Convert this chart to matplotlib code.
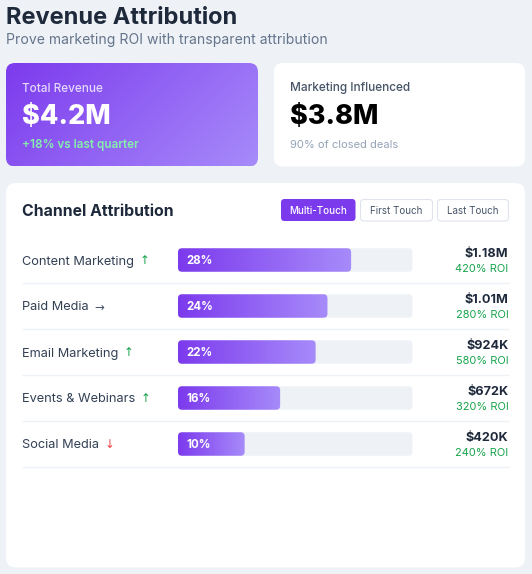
import numpy as np
import matplotlib
matplotlib.use("Agg")
import matplotlib.pyplot as plt
from matplotlib.patches import FancyBboxPatch
from matplotlib import transforms as mtrans
from matplotlib.colors import to_rgb

# ---------------- data ----------------
title = "Revenue Attribution"
subtitle = "Prove marketing ROI with transparent attribution"
kpi_labels = ["Total Revenue", "Marketing Influenced"]
kpi_values = ["$4.2M", "$3.8M"]
kpi_notes = ["+18% vs last quarter", "90% of closed deals"]
section_title = "Channel Attribution"
modes = ["Multi-Touch", "First Touch", "Last Touch"]
channels = ["Content Marketing", "Paid Media", "Email Marketing", "Events & Webinars", "Social Media"]
trends = ["up", "flat", "up", "up", "down"]
shares = [28, 24, 22, 16, 10]
revenue = ["$1.18M", "$1.01M", "$924K", "$672K", "$420K"]
roi = [420, 280, 580, 320, 240]

# ---------------- style ----------------
plt.rcParams['font.family'] = ['Inter', 'DejaVu Sans']
W, H = 532, 574
DPI = 100
BG = "#eef2f7"
PURPLE = "#7c3aed"
LIGHT_PURPLE = "#a78bfa"
TRACK = "#eef2f6"
DARK = "#1e293b"
TEXT = "#334155"
GRAY = "#64748b"
GREEN = "#16a34a"
RED = "#ef4444"
ARROW = {"up": ("\u2191", GREEN), "flat": ("\u2192", "#475569"), "down": ("\u2193", RED)}

fig = plt.figure(figsize=(W / DPI, H / DPI), dpi=DPI, facecolor=BG)
ax = fig.add_axes([0, 0, 1, 1])
ax.set_xlim(0, W)
ax.set_ylim(H, 0)
ax.axis("off")


def grad_img(c0, c1, nx, ny, mode):
    a = np.array(to_rgb(c0))
    b = np.array(to_rgb(c1))
    xs = np.linspace(0, 1, nx)
    ys = np.linspace(0, 1, ny)
    X, Y = np.meshgrid(xs, ys)
    if mode == "diag":
        t = (X * nx + Y * ny) / (nx + ny)
    else:
        t = X
    return a[None, None, :] * (1 - t[..., None]) + b[None, None, :] * t[..., None]


def rbox(axx, x, y, w, h, r, fc, ec="none", lw=0, z=1, aspect=1.0):
    p = FancyBboxPatch((x, y), w, h, boxstyle=f"round,pad=0,rounding_size={r}",
                       fc=fc, ec=ec, lw=lw, zorder=z, mutation_aspect=aspect)
    axx.add_patch(p)
    return p

# ---------------- header ----------------
ax.text(6, 24, title, fontsize=17.0, fontweight="bold", color=DARK, va="baseline", ha="left")
ax.text(6.5, 44.3, subtitle, fontsize=10.1, color=GRAY, va="baseline", ha="left")

# ---------------- KPI cards ----------------
c1 = rbox(ax, 6, 63, 252, 103.5, 9, "none", z=1)
img = grad_img(PURPLE, LIGHT_PURPLE, 252, 104, "diag")
im = ax.imshow(img, extent=(6, 258, 166.5, 63), origin="upper", zorder=1, interpolation="bilinear")
im.set_clip_path(c1)
rbox(ax, 274, 63, 251, 103.5, 9, "white", z=1)

ax.text(22, 91.5, kpi_labels[0], fontsize=8.5, color="#e4d9fd", fontweight="medium", va="baseline", zorder=3)
ax.text(22, 124, kpi_values[0], fontsize=19.4, color="white", fontweight="heavy", va="baseline", zorder=3)
ax.text(22, 147.8, kpi_notes[0], fontsize=8.5, color="#86efac", fontweight="semibold", va="baseline", zorder=3)

ax.text(290, 91.5, kpi_labels[1], fontsize=8.55, color="#475569", fontweight="medium", va="baseline", zorder=3)
ax.text(290, 124, kpi_values[1], fontsize=19.4, color="black", fontweight="heavy", va="baseline", zorder=3)
ax.text(290, 147.5, kpi_notes[1], fontsize=8.0, color="#94a3b8", va="baseline", zorder=3)

# ---------------- main card ----------------
rbox(ax, 6, 183, 519, 384.5, 10, "white", z=1)
ax.text(22, 216.5, section_title, fontsize=11.4, fontweight="bold", color=DARK, va="baseline", zorder=3)

btn_x = [281, 360.5, 437.5]
btn_w = [74.5, 72, 71]
for i, (m, bx, bw) in enumerate(zip(modes, btn_x, btn_w)):
    if i == 0:
        rbox(ax, bx, 199, bw, 22, 3.5, PURPLE, z=2)
        col, fw = "white", "medium"
    else:
        rbox(ax, bx, 199.5, bw, 21.5, 3.5, "white", ec="#dfe4ec", lw=0.8, z=2)
        col, fw = "#475569", "normal"
    ax.text(bx + bw / 2, 210.5, m, fontsize=7.1, color=col, fontweight=fw, ha="center", va="center", zorder=3)

# ---------------- bar axes ----------------
TRACK_LEFT, TRACK_RIGHT = -1.27, 38.38
n = len(channels)
row_top, row_h = 237, 46
axb = fig.add_axes([178 / W, (H - (row_top + n * row_h)) / H, 234.5 / W, n * row_h / H])
axb.set_xlim(TRACK_LEFT, TRACK_RIGHT)
axb.set_ylim(n - 0.5, -0.5)
axb.axis("off")
axb.patch.set_alpha(0)

px_x = (TRACK_RIGHT - TRACK_LEFT) / 234.5
px_y = 1.0 / row_h
asp = px_y / px_x
bar_h = 23.5 * px_y
idx = np.arange(n)
vals = np.array(shares, dtype=float)

bars = axb.barh(idx, vals - TRACK_LEFT, left=TRACK_LEFT, height=bar_h, color="none", zorder=1)
for i, rect in enumerate(bars):
    y0 = rect.get_y()
    rbox(axb, TRACK_LEFT, y0, TRACK_RIGHT - TRACK_LEFT, bar_h, 4 * px_x, TRACK, z=1, aspect=asp)
    x0, w = rect.get_x(), rect.get_width()
    clip = rbox(axb, x0, y0, w, bar_h, 4 * px_x, "none", z=2, aspect=asp)
    g = grad_img(PURPLE, LIGHT_PURPLE, 200, 2, "h")
    gi = axb.imshow(g, extent=(x0, x0 + w, y0 + bar_h, y0), origin="upper", aspect="auto",
                    zorder=2, interpolation="bilinear")
    gi.set_clip_path(clip)
axb.set_xlim(TRACK_LEFT, TRACK_RIGHT)
axb.set_ylim(n - 0.5, -0.5)

# transforms: x in figure pixels (overlay), y in row units
blend = mtrans.blended_transform_factory(ax.transData, axb.transData)


def off(dy):
    return mtrans.offset_copy(blend, fig=fig, x=0, y=-dy, units="dots")

for i in idx:
    lab = ax.text(22, i, channels[i], fontsize=9.2, color=TEXT, va="baseline", transform=off(4.5), zorder=3)
    sym, col = ARROW[trends[i]]
    ax.annotate(sym, xy=(1, 0), xycoords=lab, xytext=(4.0, 0), textcoords="offset points",
                fontsize=8.5, color=col, va="bottom", ha="left",
                family=["DejaVu Sans"], zorder=3)
    axb.text(186, i, f"{shares[i]}%", fontsize=8.3, color="white", fontweight="bold",
             va="baseline", transform=off(4.3), zorder=5)
    ax.text(508.5, i, revenue[i], fontsize=9.1, color=DARK, fontweight="bold", ha="right",
            va="baseline", transform=off(-3), zorder=3)
    ax.text(508.5, i, f"{roi[i]}% ROI", fontsize=7.9, color=GREEN, ha="right",
            va="baseline", transform=off(12.3), zorder=3)
    ax.plot([22, 508.5], [i + 0.5, i + 0.5], color="#eef1f5", lw=1.0, transform=blend, zorder=2,
            solid_capstyle="butt")

fig.savefig("out.png", dpi=DPI, facecolor=BG)
